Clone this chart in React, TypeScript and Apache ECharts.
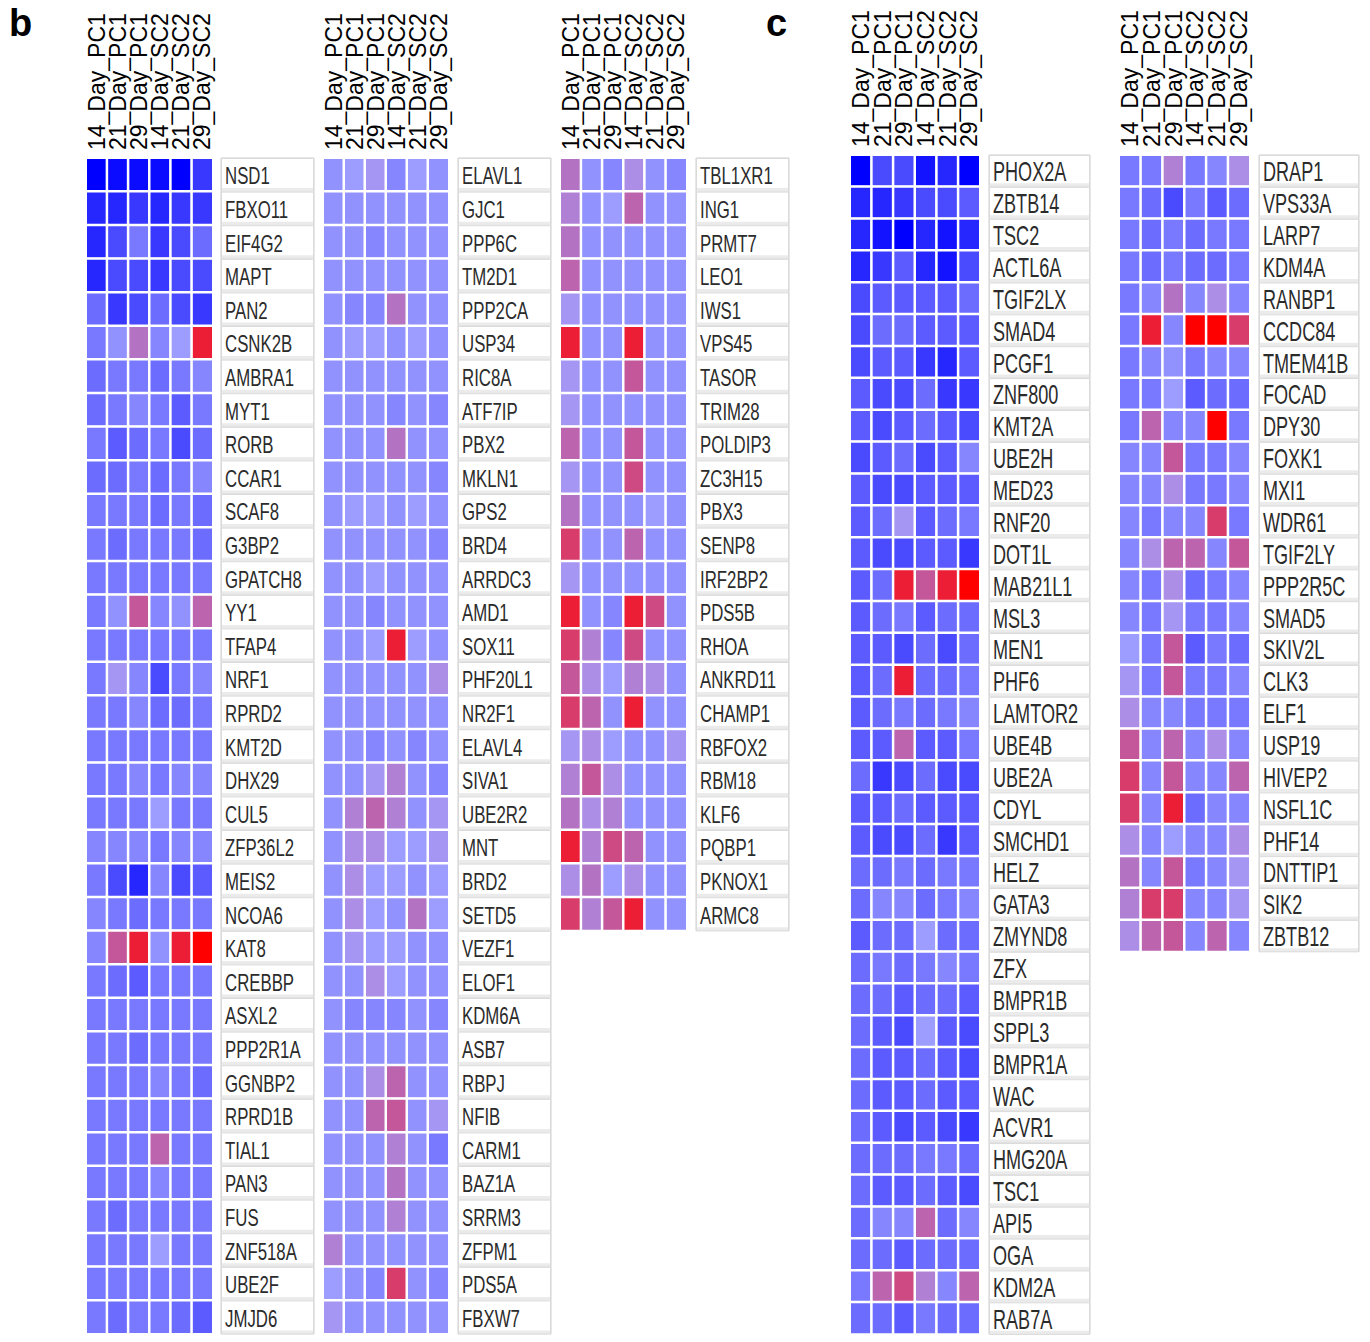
import React, { useEffect, useRef } from "react";
import * as echarts from "echarts";

const columns = ["14_Day_PC1", "21_Day_PC1", "29_Day_PC1", "14_Day_SC2", "21_Day_SC2", "29_Day_SC2"];

const b1Genes = ["NSD1", "FBXO11", "EIF4G2", "MAPT", "PAN2", "CSNK2B", "AMBRA1", "MYT1", "RORB", "CCAR1", "SCAF8", "G3BP2", "GPATCH8", "YY1", "TFAP4", "NRF1", "RPRD2", "KMT2D", "DHX29", "CUL5", "ZFP36L2", "MEIS2", "NCOA6", "KAT8", "CREBBP", "ASXL2", "PPP2R1A", "GGNBP2", "RPRD1B", "TIAL1", "PAN3", "FUS", "ZNF518A", "UBE2F", "JMJD6"];
const b1Values = [
  [0, 0.3, 0.3, 0.3, 0, 1.5], [1, 1, 1.5, 1, 1.5, 1.5], [1, 2, 3.5, 1.5, 2, 3], [1, 2, 2, 1.5, 2, 2],
  [3, 1.5, 2, 3, 2, 1.5], [3.5, 4.5, 7, 4, 5, 9.5], [3, 3.5, 3.5, 3, 3.5, 4], [3, 3.5, 4, 3.5, 2.5, 3.5],
  [3.5, 2.5, 3, 3.5, 2, 3], [3, 3, 3.5, 3, 3.5, 4], [3.5, 3.5, 3.5, 3, 3.5, 3], [3.5, 3, 3.5, 3.5, 3.5, 3],
  [3.5, 3.5, 3.5, 3.5, 3.5, 3.5], [3.5, 4.5, 8, 4, 4.5, 7.5], [3.5, 3.5, 3.5, 3.5, 3.5, 3.5], [3.5, 5.5, 4, 2, 3.5, 4],
  [3.5, 3.5, 4, 3, 3, 3.5], [3.5, 3.5, 3.5, 3.5, 3.5, 3.5], [3.5, 3.5, 4, 3.5, 4, 4], [3.5, 3.5, 3.5, 5, 3.5, 3.5],
  [4, 4, 4, 3.5, 4, 4], [3.5, 2, 1, 4, 2, 2.5], [4, 3.5, 3, 3.5, 3.5, 3.5], [4, 8, 9.5, 4.5, 9.5, 10],
  [3.5, 3, 2.5, 3.5, 3.5, 3.5], [3.5, 3.5, 3.5, 3.5, 3.5, 3.5], [3.5, 3.5, 3, 3.5, 3.5, 3.5], [3.5, 3.5, 3.5, 4, 3.5, 3],
  [3.5, 3.5, 3.5, 3.5, 3.5, 3.5], [3.5, 3.5, 3.5, 7.5, 3.5, 3.5], [3.5, 3.5, 3.5, 4, 3.5, 3.5], [3.5, 3, 3.5, 3.5, 3.5, 3.5],
  [3.5, 3.5, 3.5, 5, 3.5, 3.5], [3.5, 3.5, 3.5, 3.5, 3.5, 3.5], [3.5, 3, 3.5, 3.5, 3, 2.5],
];

const b2Genes = ["ELAVL1", "GJC1", "PPP6C", "TM2D1", "PPP2CA", "USP34", "RIC8A", "ATF7IP", "PBX2", "MKLN1", "GPS2", "BRD4", "ARRDC3", "AMD1", "SOX11", "PHF20L1", "NR2F1", "ELAVL4", "SIVA1", "UBE2R2", "MNT", "BRD2", "SETD5", "VEZF1", "ELOF1", "KDM6A", "ASB7", "RBPJ", "NFIB", "CARM1", "BAZ1A", "SRRM3", "ZFPM1", "PDS5A", "FBXW7"];
const b2Values = [
  [4.5, 5, 5.5, 4, 5, 4.5], [4.5, 4.5, 4.5, 4.5, 4.5, 4.5], [4.5, 4.5, 4, 4.5, 4.5, 4.5], [4.5, 4.5, 4.5, 4.5, 4.5, 4.5],
  [4.5, 4, 4, 7, 4.5, 4.5], [4.5, 5, 5, 4.5, 5, 4.5], [4.5, 4.5, 4.5, 4.5, 4.5, 4.5], [4.5, 4.5, 4.5, 4, 4.5, 4],
  [4.5, 4.5, 4.5, 7, 4.5, 4.5], [4.5, 4.5, 4.5, 4.5, 4.5, 4], [4.5, 5, 5, 4.5, 5, 4.5], [4.5, 4.5, 4.5, 4.5, 4.5, 4],
  [4.5, 4.5, 5, 4.5, 4.5, 4.5], [4.5, 4.5, 4, 4.5, 4.5, 4.5], [4.5, 4.5, 5, 9.5, 5, 4.5], [4.5, 4.5, 4.5, 4.5, 4.5, 6],
  [4.5, 4.5, 4.5, 4.5, 4.5, 4.5], [4.5, 4.5, 4, 4.5, 4, 4.5], [4.5, 4.5, 5.5, 6.5, 4.5, 4], [4.5, 6.5, 7.5, 6.5, 4.5, 5.5],
  [4.5, 6, 6, 5, 5, 5.5], [4.5, 6, 5, 5, 4.5, 5], [4.5, 6, 5, 4.5, 7, 5], [4.5, 5.5, 5, 5, 4.5, 4.5],
  [4.5, 4.5, 6, 5, 4.5, 4.5], [4.5, 4, 4, 4, 4.5, 4], [4.5, 4.5, 4.5, 4.5, 4.5, 4.5], [4.5, 4.5, 6, 7.5, 4.5, 4.5],
  [4.5, 4.5, 7.5, 8, 4.5, 5.5], [4.5, 4.5, 4.5, 6.5, 4.5, 3.5], [4.5, 4.5, 4.5, 7, 4.5, 4.5], [4.5, 4.5, 4.5, 6.5, 4.5, 4.5],
  [6.5, 4.5, 4.5, 4.5, 4.5, 4.5], [5, 4.5, 4, 9, 4.5, 4], [5.5, 4.5, 4.5, 4.5, 4.5, 4.5],
];

const b3Genes = ["TBL1XR1", "ING1", "PRMT7", "LEO1", "IWS1", "VPS45", "TASOR", "TRIM28", "POLDIP3", "ZC3H15", "PBX3", "SENP8", "IRF2BP2", "PDS5B", "RHOA", "ANKRD11", "CHAMP1", "RBFOX2", "RBM18", "KLF6", "PQBP1", "PKNOX1", "ARMC8"];
const b3Values = [
  [7, 4.5, 4, 6, 4.5, 4], [6.5, 4.5, 5, 7.5, 4.5, 4.5], [7, 4.5, 4.5, 4.5, 4.5, 4.5], [7.5, 4.5, 4.5, 4.5, 4.5, 4.5],
  [5.5, 4.5, 4.5, 4.5, 4.5, 4.5], [9.5, 4.5, 4.5, 9.5, 4.5, 4.5], [5.5, 4.5, 4.5, 8, 4.5, 4.5], [5.5, 4.5, 4.5, 4.5, 4.5, 4.5],
  [7.5, 4.5, 4.5, 8, 4.5, 4.5], [5.5, 4.5, 4.5, 8.5, 4.5, 4.5], [7, 4.5, 4.5, 4.5, 5, 4.5], [9, 4.5, 4.5, 7.5, 4.5, 4.5],
  [5.5, 4.5, 4.5, 4.5, 4.5, 4.5], [9.5, 4.5, 4, 9.5, 8.5, 4.5], [9, 6.5, 4, 8.5, 4.5, 4.5], [8, 6, 5, 6.5, 6, 4.5],
  [9, 7.5, 4.5, 9.5, 4.5, 4.5], [5.5, 6, 5, 4.5, 4.5, 5.5], [6.5, 8, 6, 4.5, 4.5, 4.5], [7, 6, 6.5, 4.5, 4.5, 4.5],
  [9.5, 6.5, 8.5, 7.5, 4.5, 4.5], [6, 7, 5, 6, 4.5, 4.5], [9, 6.5, 8, 9.5, 4.5, 4.5],
];

const c1Genes = ["PHOX2A", "ZBTB14", "TSC2", "ACTL6A", "TGIF2LX", "SMAD4", "PCGF1", "ZNF800", "KMT2A", "UBE2H", "MED23", "RNF20", "DOT1L", "MAB21L1", "MSL3", "MEN1", "PHF6", "LAMTOR2", "UBE4B", "UBE2A", "CDYL", "SMCHD1", "HELZ", "GATA3", "ZMYND8", "ZFX", "BMPR1B", "SPPL3", "BMPR1A", "WAC", "ACVR1", "HMG20A", "TSC1", "API5", "OGA", "KDM2A", "RAB7A"];
const c1Values = [
  [0, 2, 2, 0.5, 1, 0], [1, 1, 1.5, 2, 2, 2.5], [1, 0.5, 0, 1, 0.5, 1], [1, 1.5, 2.5, 1, 0.5, 2],
  [2, 2.5, 2.5, 2.5, 2.5, 3], [2, 3, 3, 2.5, 2.5, 2.5], [2, 2.5, 2.5, 1.5, 1, 2.5], [2.5, 2, 2, 3, 1.5, 1.5],
  [2.5, 2, 2.5, 3, 2.5, 2], [2, 2.5, 3, 2, 2.5, 4], [2.5, 2, 2, 2.5, 2.5, 2.5], [2.5, 3, 5.5, 2.5, 3, 3.5],
  [2.5, 2, 2, 2.5, 2.5, 1.5], [2.5, 3, 9.5, 8, 9.5, 10], [2.5, 3, 3.5, 2.5, 3, 3], [2.5, 2.5, 2, 3, 2, 3],
  [2.5, 3, 9.5, 3, 3, 3.5], [2.5, 3, 3.5, 3, 3.5, 4], [2.5, 2.5, 7.5, 2.5, 2.5, 3.5], [3, 1.5, 2, 3, 2, 2],
  [2.5, 2.5, 3, 2.5, 2.5, 2.5], [2.5, 2, 2, 3, 1.5, 2.5], [3, 3, 3.5, 3, 3.5, 3.5], [3, 4, 4, 3, 3.5, 4],
  [2.5, 3, 3, 5, 3, 3], [3, 3.5, 3, 3.5, 4, 3.5], [3, 3, 2.5, 3, 3, 2.5], [3, 2.5, 2, 5, 2.5, 2],
  [3, 2.5, 2.5, 3, 2.5, 2], [3, 2.5, 2.5, 3, 2.5, 2.5], [3, 2.5, 2, 2.5, 2, 1.5], [3, 3, 3, 3.5, 3.5, 3],
  [3, 2.5, 2.5, 3, 2.5, 2], [3, 4, 4, 7.5, 3, 4], [3, 3, 2.5, 3, 3, 3], [3.5, 7.5, 8.5, 6.5, 4, 7.5],
  [3, 3, 2.5, 3.5, 3, 3],
];

const c2Genes = ["DRAP1", "VPS33A", "LARP7", "KDM4A", "RANBP1", "CCDC84", "TMEM41B", "FOCAD", "DPY30", "FOXK1", "MXI1", "WDR61", "TGIF2LY", "PPP2R5C", "SMAD5", "SKIV2L", "CLK3", "ELF1", "USP19", "HIVEP2", "NSFL1C", "PHF14", "DNTTIP1", "SIK2", "ZBTB12"];
const c2Values = [
  [3.5, 3.5, 6.5, 3.5, 4, 6], [3.5, 3, 2, 3.5, 2.5, 3], [3.5, 3, 3.5, 3, 3.5, 3.5], [3.5, 3, 3.5, 3, 3, 3.5],
  [3.5, 4, 7, 4, 6, 4], [3.5, 9.5, 4, 10, 10, 9], [3.5, 4, 4.5, 3.5, 4, 4], [3.5, 3.5, 5, 2.5, 3, 3],
  [3.5, 7.5, 4, 4, 10, 3.5], [4, 4, 8, 3.5, 3.5, 4], [4, 4, 6, 3.5, 3.5, 4], [4, 3.5, 4, 4, 9, 3.5],
  [4, 6, 7.5, 7.5, 4, 8], [4, 3.5, 6, 3, 3.5, 4], [4, 3.5, 5.5, 3.5, 3.5, 4], [5, 3.5, 8, 2.5, 3.5, 3],
  [5.5, 3.5, 8, 3.5, 3.5, 4], [6, 4, 4, 3.5, 3.5, 3.5], [8, 4, 7.5, 4, 6, 4], [9, 4, 8, 4, 4, 7.5],
  [9, 4, 9.5, 3, 4, 4], [6, 4, 5, 4, 4, 6], [7, 4, 8, 3.5, 4, 5.5], [6.5, 9, 9, 4, 4, 5.5],
  [6, 7.5, 8, 4, 7.5, 4],
];

const colorStops = ["#0000ff", "#2626ff", "#4a4aff", "#6c6cff", "#8686ff", "#9d9dff", "#ac8ee6", "#b472c2", "#c4579a", "#d83c6a", "#ff0000"];

const FONT = "'Liberation Sans', Arial, Helvetica, sans-serif";

const panels = [
  { genes: b1Genes, values: b1Values, heatLeft: 86, heatWidth: 127, labelLeft: 221, labelWidth: 93, top: 158, rowH: 33.6, fontSize: 24, scaleX: 0.7 },
  { genes: b2Genes, values: b2Values, heatLeft: 323, heatWidth: 126, labelLeft: 458, labelWidth: 93, top: 158, rowH: 33.6, fontSize: 24, scaleX: 0.7 },
  { genes: b3Genes, values: b3Values, heatLeft: 560, heatWidth: 127, labelLeft: 696, labelWidth: 93, top: 158, rowH: 33.6, fontSize: 24, scaleX: 0.7 },
  { genes: c1Genes, values: c1Values, heatLeft: 850, heatWidth: 130, labelLeft: 989, labelWidth: 101, top: 155, rowH: 31.87, fontSize: 27, scaleX: 0.67 },
  { genes: c2Genes, values: c2Values, heatLeft: 1119, heatWidth: 131, labelLeft: 1259, labelWidth: 100, top: 155, rowH: 31.87, fontSize: 27, scaleX: 0.67 },
];

function buildOption() {
  const grid: any[] = [];
  const xAxis: any[] = [];
  const yAxis: any[] = [];
  const series: any[] = [];
  const heatIdx: number[] = [];

  panels.forEach((p) => {
    const h = p.genes.length * p.rowH;
    const g0 = grid.length;
    grid.push({ left: p.heatLeft, top: p.top, width: p.heatWidth, height: h, show: true, borderColor: "#cfcfcf", borderWidth: 1, backgroundColor: "#fff" });
    grid.push({ left: p.labelLeft, top: p.top, width: p.labelWidth, height: h, show: true, borderColor: "#cfcfcf", borderWidth: 1 });
    xAxis.push({
      type: "category", gridIndex: g0, data: columns, position: "top",
      axisLine: { show: false }, axisTick: { show: false }, splitLine: { show: false },
      axisLabel: { show: false },
    });
    yAxis.push({ type: "category", gridIndex: g0, data: p.genes, inverse: true, show: false });
    xAxis.push({ type: "value", gridIndex: g0 + 1, min: 0, max: 1, show: false });
    yAxis.push({ type: "category", gridIndex: g0 + 1, data: p.genes, inverse: true, show: false });

    const data: any[] = [];
    p.values.forEach((row, ri) => row.forEach((v, ci) => data.push([ci, ri, v])));
    heatIdx.push(series.length);
    series.push({
      type: "heatmap", xAxisIndex: g0, yAxisIndex: g0, data,
      itemStyle: { borderColor: "#ffffff", borderWidth: 2.5 },
      emphasis: { disabled: true },
    });
    // column headers, rotated to read bottom-to-top
    series.push({
      type: "custom", xAxisIndex: g0, yAxisIndex: g0,
      data: columns.map((_, i) => [i, 0]),
      silent: true,
      renderItem: (params: any, api: any) => {
        const cs = params.coordSys;
        const i = params.dataIndex;
        const c = api.coord([i, 0]);
        return {
          type: "text", x: c[0], y: cs.y - 8, rotation: Math.PI / 2,
          style: { text: columns[i], fontSize: 23, fontFamily: FONT, fill: "#000", align: "left", verticalAlign: "middle" },
        };
      },
    });
    const genes = p.genes;
    const fs = p.fontSize;
    const sx = p.scaleX;
    series.push({
      type: "custom", xAxisIndex: g0 + 1, yAxisIndex: g0 + 1,
      data: genes.map((_, i) => [0.5, i]),
      silent: true,
      renderItem: (params: any, api: any) => {
        const cs = params.coordSys;
        const idx = params.dataIndex;
        const c = api.coord([0.5, idx]);
        const bh = api.size([0, 1])[1];
        const yTop = c[1] - bh / 2;
        return {
          type: "group",
          children: [
            { type: "rect", shape: { x: cs.x + 0.5, y: yTop + 0.5, width: cs.width - 1, height: bh - 1 }, style: { fill: "#ffffff", stroke: "#dadada", lineWidth: 1 } },
            { type: "rect", shape: { x: cs.x + 1, y: yTop + bh - 3.5, width: cs.width - 2, height: 3 }, style: { fill: "#ebebeb" } },
            { type: "text", x: cs.x + 4, y: c[1] + 1, scaleX: sx, style: { text: genes[idx], fontSize: fs, fontFamily: FONT, fill: "#2b2b2b", align: "left", verticalAlign: "middle" } },
          ],
        };
      },
    });
  });

  return {
    animation: false,
    backgroundColor: "#ffffff",
    grid, xAxis, yAxis, series,
    visualMap: {
      type: "continuous", min: 0, max: 10, show: false, seriesIndex: heatIdx, dimension: 2,
      inRange: { color: colorStops },
    },
    graphic: [
      { type: "text", left: 9, top: 4, style: { text: "b", fontSize: 38, fontWeight: "bold", fill: "#000", fontFamily: FONT } },
      { type: "text", left: 766, top: 4, style: { text: "c", fontSize: 38, fontWeight: "bold", fill: "#000", fontFamily: FONT } },
    ],
  };
}

export default function App() {
  const ref = useRef<HTMLDivElement>(null);
  useEffect(() => {
    document.body.style.margin = "0";
    if (!ref.current) return;
    const chart = echarts.init(ref.current, undefined, { renderer: "svg" });
    chart.setOption(buildOption() as any);
    return () => chart.dispose();
  }, []);
  return <div ref={ref} style={{ width: 1370, height: 1342 }} />;
}
